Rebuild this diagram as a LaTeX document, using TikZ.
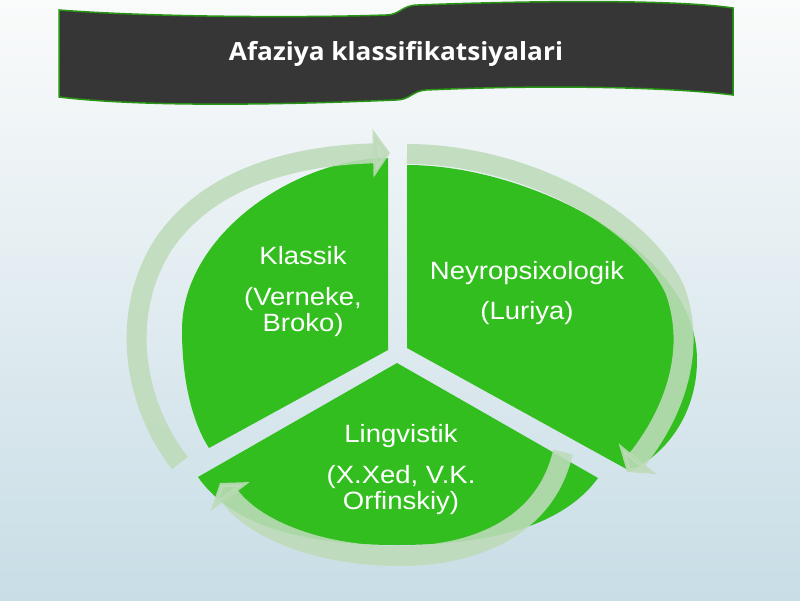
\documentclass[tikz,border=0pt]{standalone}
\usepackage{fontspec}
\usepackage{tikz}
\usetikzlibrary{arrows.meta}
\setmainfont{Liberation Sans}
\newfontfamily\titlefont[FakeStretch=1.05]{Open Sans}
\newfontfamily\segfont[FakeStretch=1.1]{Liberation Sans}

\definecolor{sectorgreen}{RGB}{50,190,30}
\definecolor{loopgreen}{RGB}{190,219,185}
\definecolor{bannergray}{RGB}{54,54,54}
\definecolor{bannerline}{RGB}{40,150,20}
\definecolor{bgtop}{RGB}{250,251,251}
\definecolor{bgmid}{RGB}{234,241,243}
\definecolor{bgbottom}{RGB}{200,221,230}

\begin{document}
\begin{tikzpicture}[x=1pt, y=-1pt,
    sector/.style={fill=sectorgreen},
    loop/.style={draw=loopgreen, draw opacity=0.88, fill opacity=0.88, line width=20pt,
        -{Triangle[length=17pt, width=48pt]}},
    seglabel/.style={text=white, align=center, font=\segfont\fontsize{25}{26}\selectfont}]
    \useasboundingbox (0,0) rectangle (800,600);
    \shade[top color=bgtop, middle color=bgmid, bottom color=bgbottom] (0,0) rectangle (800,600);

    % banner
    \filldraw[fill=bannergray, draw=bannerline, line width=1.5pt]
        (59,10) .. controls (150,17) and (300,18) .. (386,15) .. controls (400,15) and (402,5) .. (418,5)
        .. controls (550,0) and (680,0) .. (733,8) -- (733,95)
        .. controls (680,88) and (560,84) .. (426,90) .. controls (412,91) and (410,100) .. (396,100)
        .. controls (300,104) and (150,108) .. (59,97) -- cycle;
    \node[text=white, font=\titlefont\bfseries\fontsize{25}{28}\selectfont] (title) at (396,54) {Afaziya klassifikatsiyalari};

    % three sectors
    \fill[sector] (388,350) -- (388,158) .. controls (295,158) and (182,235) .. (182,330)
        .. controls (182,385) and (194,425) .. (209,448) -- cycle;
    \fill[sector] (407,348) -- (407,165) .. controls (530,165) and (697,250) .. (697,360)
        .. controls (697,410) and (670,452) .. (630,471) -- cycle;
    \fill[sector] (397,363) -- (598,478) .. controls (560,530) and (480,545) .. (397,545)
        .. controls (314,545) and (235,530) .. (198,477) -- cycle;

    % cycle arrows
    \draw[loop] (180,463) .. controls (138,410) and (116,320) .. (163,245) .. controls (210,175) and (300,155) .. (390,153);
    \draw[loop] (407,154) .. controls (520,154) and (640,215) .. (675,290) .. controls (700,360) and (665,425) .. (627,472);
    \draw[loop] (563,452) .. controls (545,530) and (470,556) .. (400,556) .. controls (320,556) and (255,530) .. (220,483);

    \node[seglabel] (klassik) at (303,292) {Klassik\\[15pt](Verneke,\\Broko)};
    \node[seglabel] (neyro) at (527,293) {Neyropsixologik\\[14pt](Luriya)};
    \node[seglabel] (lingvistik) at (401,470) {Lingvistik\\[15pt](X.Xed, V.K.\\Orfinskiy)};
\end{tikzpicture}
\end{document}
